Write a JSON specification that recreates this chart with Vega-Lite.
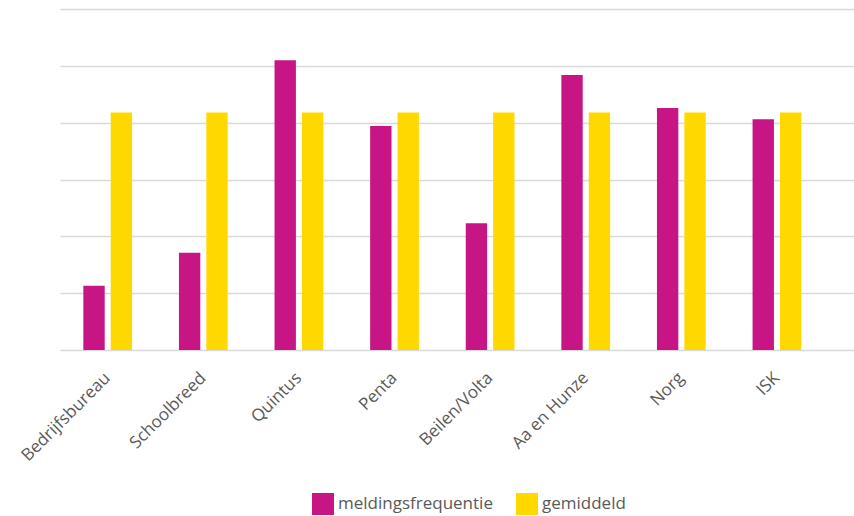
{
  "$schema": "https://vega.github.io/schema/vega-lite/v6.json",
  "autosize": {"type": "none"},
  "padding": {"left": 60, "top": 9, "right": 0, "bottom": 166},
  "width": 794,
  "height": 341,
  "background": "white",
  "config": {
    "view": {"stroke": null},
    "font": "Open Sans"
  },
  "data": {
    "values": [
      {"school": "Bedrijfsbureau", "reeks": "meldingsfrequentie", "waarde": 1.13},
      {"school": "Bedrijfsbureau", "reeks": "gemiddeld", "waarde": 4.18},
      {"school": "Schoolbreed", "reeks": "meldingsfrequentie", "waarde": 1.71},
      {"school": "Schoolbreed", "reeks": "gemiddeld", "waarde": 4.18},
      {"school": "Quintus", "reeks": "meldingsfrequentie", "waarde": 5.10},
      {"school": "Quintus", "reeks": "gemiddeld", "waarde": 4.18},
      {"school": "Penta", "reeks": "meldingsfrequentie", "waarde": 3.94},
      {"school": "Penta", "reeks": "gemiddeld", "waarde": 4.18},
      {"school": "Beilen/Volta", "reeks": "meldingsfrequentie", "waarde": 2.23},
      {"school": "Beilen/Volta", "reeks": "gemiddeld", "waarde": 4.18},
      {"school": "Aa en Hunze", "reeks": "meldingsfrequentie", "waarde": 4.84},
      {"school": "Aa en Hunze", "reeks": "gemiddeld", "waarde": 4.18},
      {"school": "Norg", "reeks": "meldingsfrequentie", "waarde": 4.26},
      {"school": "Norg", "reeks": "gemiddeld", "waarde": 4.18},
      {"school": "ISK", "reeks": "meldingsfrequentie", "waarde": 4.06},
      {"school": "ISK", "reeks": "gemiddeld", "waarde": 4.18}
    ]
  },
  "mark": {"type": "bar"},
  "encoding": {
    "x": {
      "field": "school",
      "type": "nominal",
      "sort": null,
      "scale": {"paddingInner": 0.49, "paddingOuter": 0.3975, "align": 0.307},
      "axis": {
        "title": null,
        "domain": false,
        "ticks": false,
        "labelAngle": -45,
        "labelAlign": "right",
        "labelBaseline": "middle",
        "labelPadding": 25,
        "labelDx": 6,
        "labelFontSize": 17,
        "labelColor": "#595959",
        "labelFont": "Open Sans"
      }
    },
    "xOffset": {
      "field": "reeks",
      "type": "nominal",
      "sort": ["meldingsfrequentie", "gemiddeld"],
      "scale": {"paddingInner": 0.22, "paddingOuter": 0}
    },
    "y": {
      "field": "waarde",
      "type": "quantitative",
      "scale": {"domain": [0, 6], "nice": false},
      "axis": {
        "title": null,
        "labels": false,
        "ticks": false,
        "domain": false,
        "values": [0, 1, 2, 3, 4, 5, 6],
        "gridColor": "#D9D9D9",
        "gridWidth": 1.5
      }
    },
    "color": {
      "field": "reeks",
      "type": "nominal",
      "sort": ["meldingsfrequentie", "gemiddeld"],
      "scale": {"domain": ["meldingsfrequentie", "gemiddeld"], "range": ["#C71585", "#FFD800"]},
      "legend": {
        "title": null,
        "orient": "none",
        "direction": "horizontal",
        "legendX": 252,
        "legendY": 484,
        "symbolType": "square",
        "symbolSize": 484,
        "symbolStrokeWidth": 0,
        "symbolOpacity": 1,
        "labelFontSize": 17,
        "labelColor": "#595959",
        "labelFont": "Open Sans",
        "labelOffset": 4,
        "columnPadding": 23
      }
    }
  }
}
